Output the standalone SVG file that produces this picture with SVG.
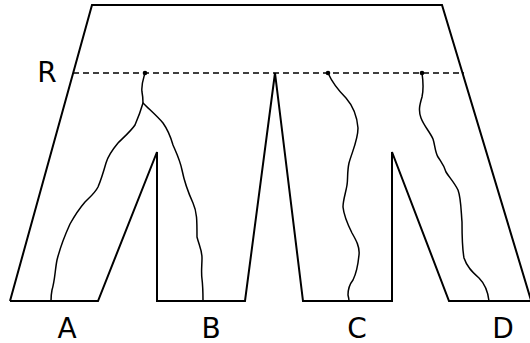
<svg xmlns="http://www.w3.org/2000/svg" width="530" height="343" viewBox="0 0 530 343">
<style>
.outline{fill:none;stroke:#000;stroke-width:2;stroke-linejoin:miter}
.root{fill:none;stroke:#000;stroke-width:1.5;stroke-linecap:round;stroke-linejoin:round}
.dash{fill:none;stroke:#000;stroke-width:1.4;stroke-dasharray:6,4}
.lbl{font-family:"DejaVu Sans",sans-serif;font-size:28px;fill:#000;text-anchor:middle}
</style>
<rect width="530" height="343" fill="#fff"/>
<g id="outline">
<path class="outline" d="M10,301 L92,5 L442,5 L546,350"/>
<path class="outline" d="M10,301 L98,301 L157,152 L157,301 L245,301 L275,73 L303,301 L392,301 L392,152 L449,301 L532,301"/>
</g>
<g id="reference-line">
<line class="dash" x1="73" y1="73" x2="464" y2="73"/>
<text class="lbl" x="47" y="82">R</text>
</g>
<g id="connectors">
<path id="root1" class="root" d="M145,73 C143,80 141,85 142,92 C143,97 143,100 143,103 C141,110 138,118 135,125 C131,131 123,138 118,143 C113,149 108,156 106,163 C104,170 101,180 98,187 C95,193 90,197 85,202 C79,209 75,215 70,224 C65,235 60,248 57,260 C55,270 55,280 52,290 C51,295 51,299 51,301"/>
<path id="root1b" class="root" d="M143,103 C150,110 158,117 163,123 C168,130 171,138 173,145 C176,152 180,160 182,170 C184,180 188,192 193,203 C197,212 197,220 197,237 C199,245 202,250 202,258 C202,265 201,272 202,279 C203,287 203,294 203,301"/>
<path id="root2" class="root" d="M328,73 C332,82 338,90 346,98 C353,106 357,115 358,128 C358,140 352,152 349,163 C347,172 348,180 347,185 C346,192 343,200 343,207 C344,217 348,225 352,233 C356,240 360,247 359,255 C358,265 357,272 353,280 C349,285 348,290 348,295 C349,299 349,300 349,301"/>
<path id="root3" class="root" d="M422,73 C423,80 424,88 422,97 C420,104 418,110 421,118 C424,126 430,132 433,139 C435,145 435,152 438,157 C441,162 444,165 446,172 C449,177 454,182 458,190 C461,198 461,210 462,222 C462,235 462,247 464,258 C467,267 472,272 479,278 C484,283 488,292 489,301"/>
<circle cx="145" cy="73" r="2.3" fill="#000"/>
<circle cx="328" cy="73" r="2.3" fill="#000"/>
<circle cx="422" cy="73" r="2.3" fill="#000"/>
</g>
<g id="labels">
<text class="lbl" x="67" y="338">A</text>
<text class="lbl" x="211" y="338">B</text>
<text class="lbl" x="357" y="338">C</text>
<text class="lbl" x="503" y="338">D</text>
</g>
</svg>
